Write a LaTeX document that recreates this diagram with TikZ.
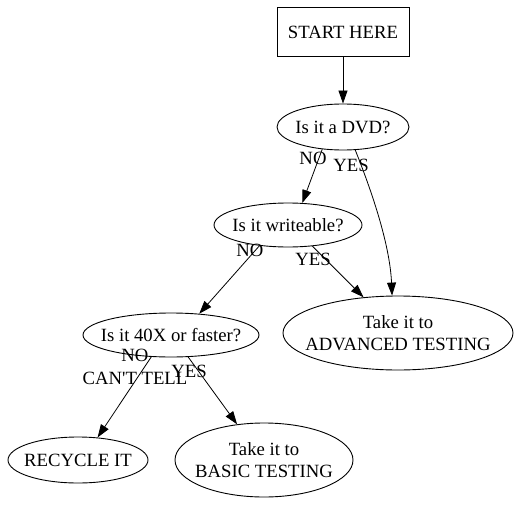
\documentclass[tikz,border=0pt]{standalone}
\usepackage{fontspec}
\setmainfont{Liberation Serif}
\newfontfamily\plainserif{Liberation Serif}
\usetikzlibrary{shapes.geometric,arrows.meta}
\begin{document}
\begin{tikzpicture}[x=1pt,y=-1pt,
  every node/.style={font=\fontsize{18.7}{22.4}\selectfont, inner sep=0pt},
  box/.style={draw, rectangle, line width=0.9pt, minimum width=132pt, minimum height=49pt},
  oval/.style 2 args={draw, ellipse, line width=0.9pt, minimum width=#1, minimum height=#2},
  txt/.style={align=center},
  lbl/.style={align=center},
  conn/.style={draw, line width=0.8pt, -{Triangle[length=13pt,width=9pt]}}]
\useasboundingbox (0,0) rectangle (522,506);
\fill[white] (0,0) rectangle (522,506);

\node[box] (start) at (343,32) {START HERE};
\node[oval={132pt}{46pt}, label={[txt]center:Is it a DVD?}] (dvd) at (343,127) {};
\node[oval={148pt}{44pt}, label={[txt]center:Is it writeable?}] (write) at (288,225) {};
\node[oval={176pt}{44pt}, label={[txt]center:Is it 40X or faster?}] (fast) at (171,335) {};
\node[oval={230pt}{74pt}, label={[txt]center:Take it to\\ADVANCED TESTING}] (adv) at (398,333) {};
\node[oval={140pt}{46pt}, label={[txt]center:RECYCLE IT}] (recyc) at (78,460) {};
\node[oval={178pt}{74pt}, label={[txt]center:Take it to\\BASIC TESTING}] (basic) at (264,460) {};

\draw[conn] (start.south) -- (dvd.north);
\draw[conn] (dvd.227.6) -- (write.57);
\draw[conn] (dvd.298) .. controls +(20,50) and +(-2,-47) .. (adv.99);
\draw[conn] (write.216) -- (fast.37.8);
\draw[conn] (write.319) -- (adv.134.8);
\draw[conn] (fast.228.5) -- (recyc.49.3);
\draw[conn] (fast.308) -- (basic.127.4);

\node[lbl] (l1) at (313,158) {NO};
\node[lbl] (l2) at (351,165) {YES};
\node[lbl] (l3) at (250,250) {NO};
\node[lbl] (l4) at (313,259) {YES};
\node[lbl] (l5) at (135,367) {NO\\CAN{\plainserif'}T TELL};
\node[lbl] (l6) at (189,371) {YES};
\end{tikzpicture}
\end{document}
